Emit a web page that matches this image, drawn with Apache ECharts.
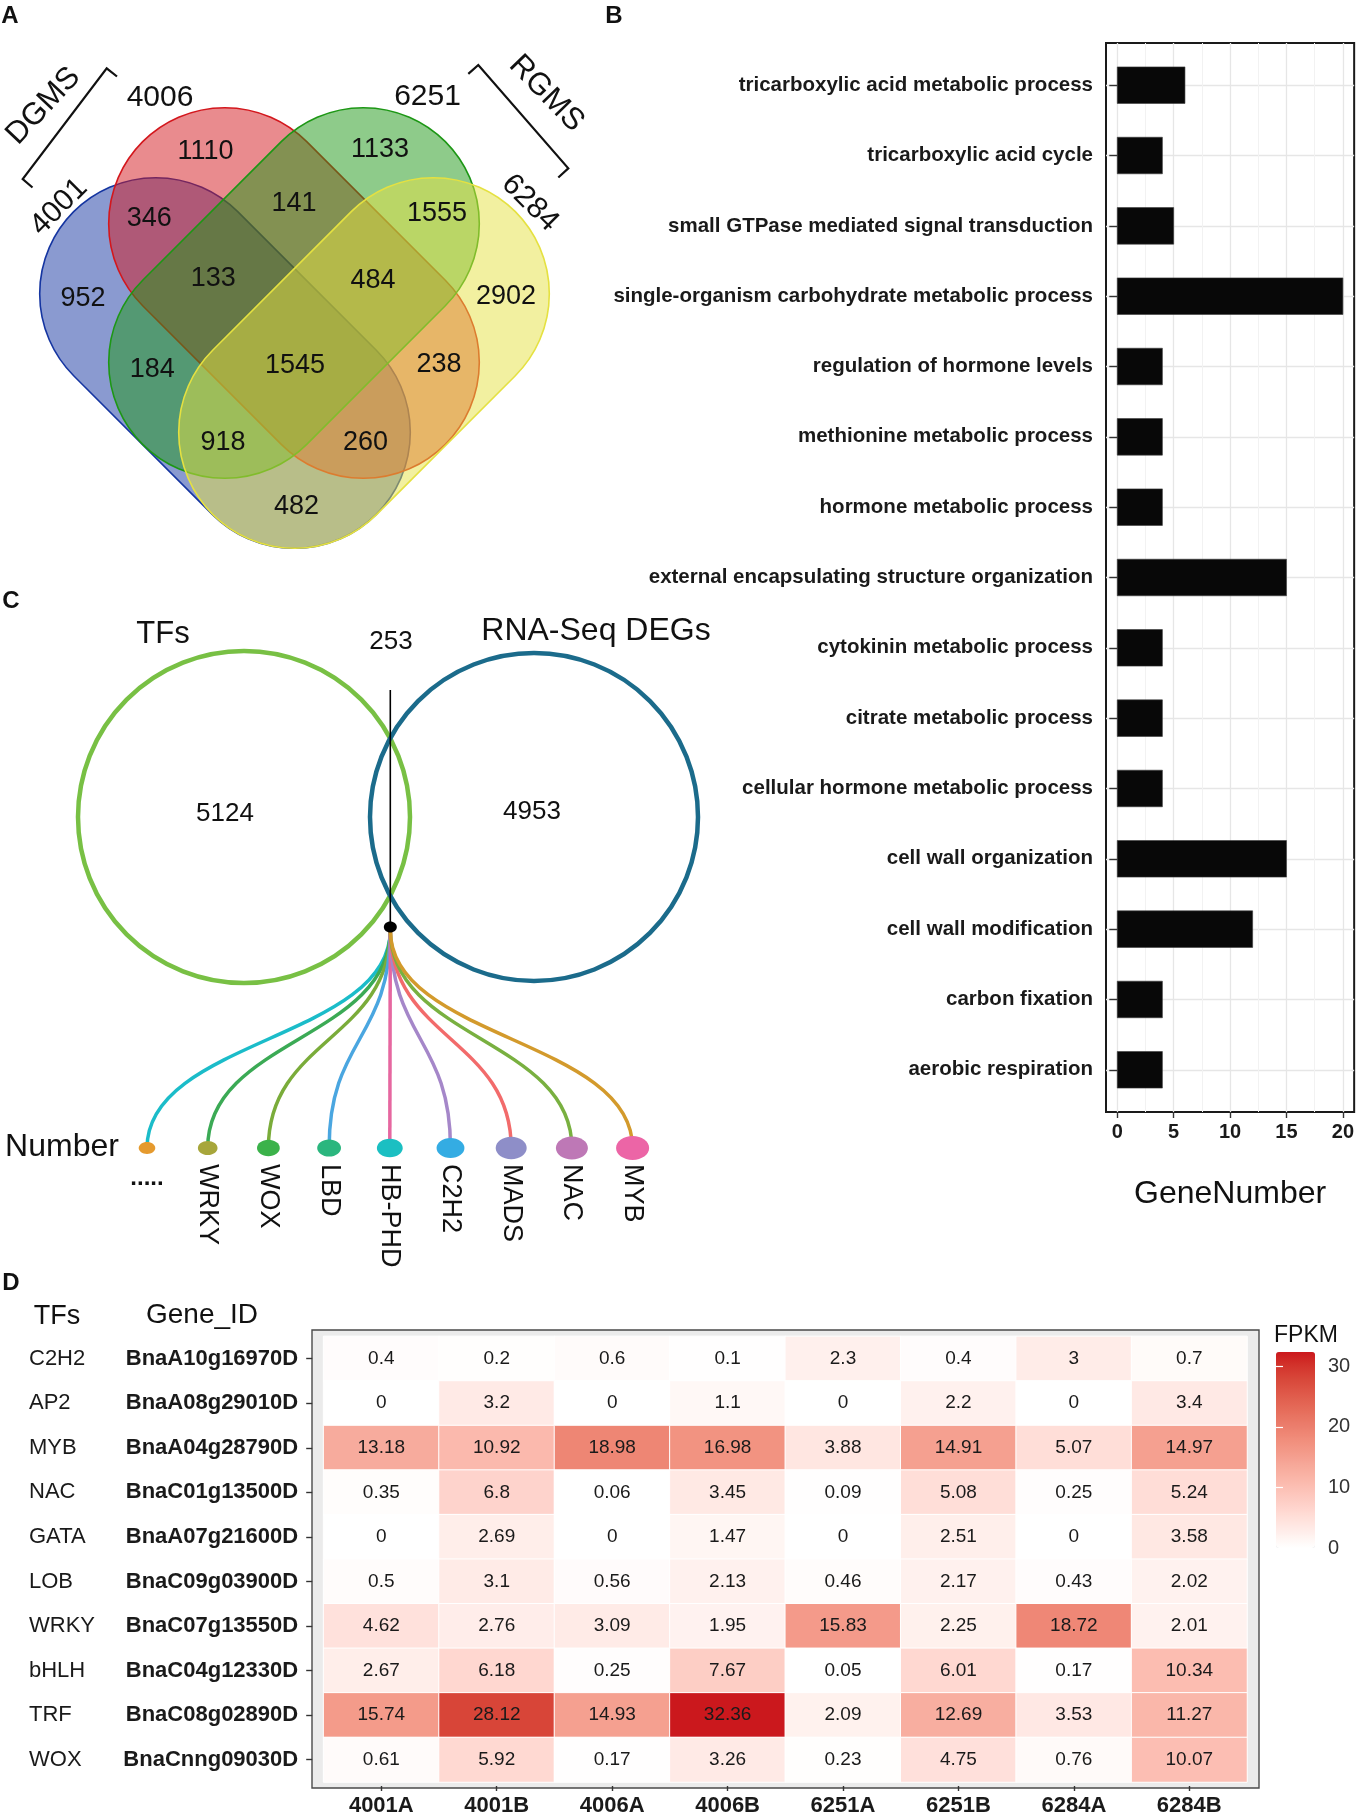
<!DOCTYPE html>
<html>
<head>
<meta charset="utf-8">
<script src="https://cdn.jsdelivr.net/npm/echarts@6/dist/echarts.min.js"></script>
<style>
html,body{margin:0;padding:0;background:#ffffff;}
#chart{width:1357px;height:1817px;}
</style>
</head>
<body>
<div id="chart"></div>
<script>
// ====================== DATA ======================
// Panel A : four-set Venn diagram
const vennSets = ['4001', '4006', '6251', '6284'];
const vennGroups = ['DGMS', 'RGMS'];
// region counts (order matches layout positions below)
const vennCounts = [1110, 1133, 346, 141, 1555, 952, 133, 484, 2902, 184, 1545, 238, 918, 260, 482];

// Panel B : GO terms
const goTerms = [
  'tricarboxylic acid metabolic process',
  'tricarboxylic acid cycle',
  'small GTPase mediated signal transduction',
  'single-organism carbohydrate metabolic process',
  'regulation of hormone levels',
  'methionine metabolic process',
  'hormone metabolic process',
  'external encapsulating structure organization',
  'cytokinin metabolic process',
  'citrate metabolic process',
  'cellular hormone metabolic process',
  'cell wall organization',
  'cell wall modification',
  'carbon fixation',
  'aerobic respiration'
];
const goGeneNumber = [6, 4, 5, 20, 4, 4, 4, 15, 4, 4, 4, 15, 12, 4, 4];
const geneNumberTicks = [0, 5, 10, 15, 20];

// Panel C : TFs vs RNA-Seq DEGs
const vennCSets = ['TFs', 'RNA-Seq DEGs'];
const vennCCounts = [5124, 253, 4953];           // TFs only, overlap, DEGs only
const tfFamilies = ['.....', 'WRKY', 'WOX', 'LBD', 'HB-PHD', 'C2H2', 'MADS', 'NAC', 'MYB'];
const tfFamilyNumber = [3, 6, 9, 10, 12, 14, 17, 18, 19];

// Panel D : FPKM heatmap
const samples = ['4001A', '4001B', '4006A', '4006B', '6251A', '6251B', '6284A', '6284B'];
const tfNames = ['C2H2', 'AP2', 'MYB', 'NAC', 'GATA', 'LOB', 'WRKY', 'bHLH', 'TRF', 'WOX'];
const geneIds = ['BnaA10g16970D', 'BnaA08g29010D', 'BnaA04g28790D', 'BnaC01g13500D', 'BnaA07g21600D',
                 'BnaC09g03900D', 'BnaC07g13550D', 'BnaC04g12330D', 'BnaC08g02890D', 'BnaCnng09030D'];
const fpkm = [
  [0.4, 0.2, 0.6, 0.1, 2.3, 0.4, 3, 0.7],
  [0, 3.2, 0, 1.1, 0, 2.2, 0, 3.4],
  [13.18, 10.92, 18.98, 16.98, 3.88, 14.91, 5.07, 14.97],
  [0.35, 6.8, 0.06, 3.45, 0.09, 5.08, 0.25, 5.24],
  [0, 2.69, 0, 1.47, 0, 2.51, 0, 3.58],
  [0.5, 3.1, 0.56, 2.13, 0.46, 2.17, 0.43, 2.02],
  [4.62, 2.76, 3.09, 1.95, 15.83, 2.25, 18.72, 2.01],
  [2.67, 6.18, 0.25, 7.67, 0.05, 6.01, 0.17, 10.34],
  [15.74, 28.12, 14.93, 32.36, 2.09, 12.69, 3.53, 11.27],
  [0.61, 5.92, 0.17, 3.26, 0.23, 4.75, 0.76, 10.07]
];
const fpkmTicks = [0, 10, 20, 30];

// ====================== LAYOUT / STYLE ======================
const FONT = '"Liberation Sans", Arial, Helvetica, sans-serif';
const L = {
  // panel A (layout coordinate space = page pixels); capsule shapes
  vennShape: [
    { cx: 225, cy: 363, rot: -Math.PI / 4, color: '#1535A1' },
    { cx: 294, cy: 293, rot: -Math.PI / 4, color: '#D3171D' },
    { cx: 294, cy: 293, rot:  Math.PI / 4, color: '#1D9715' },
    { cx: 364, cy: 363, rot:  Math.PI / 4, color: '#E5E141' }
  ],
  capLen: 428, capWid: 232,
  vennCountPos: [[205.5,152],[380,149.5],[149.3,218.6],[294,203.5],[437,213.5],[83,298.2],[213.2,278.5],
                 [373.1,280.3],[506,296.4],[152.3,369.6],[295,366],[439,365],[223.1,442.8],[365.5,442.1],[296.6,507]],
  // panel C
  circleC: [{ cx: 244, cy: 817, r: 166, color: '#78C044' }, { cx: 534, cy: 817, r: 164, color: '#1B6B8B' }],
  countCPos: [[225, 814], [391, 642], [532, 812]],
  stemTop: [390.3, 690], stemBottom: [390.3, 927],
  fanRoot: [390.3, 930], fanX0: 147, fanDX: 60.7, fanY: 1148, fanLabelY: 1164, fanDotsY: 1178,
  curveColors: ['#1BBCC9', '#3BAA55', '#7AAC3A', '#4AA6E0', '#E667A0', '#A587C9', '#F26B6B', '#79B040', '#D39A2C'],
  dotColors: ['#E59A2E', '#A7A63B', '#3BB24A', '#2BB67E', '#1BBFC2', '#34ACE3', '#8E8EC8', '#BE78B6', '#EC65A6']
};

// Lab interpolation (ggplot-like gradient white -> #CB181D)
function s2l(c) { c /= 255; return c <= 0.04045 ? c / 12.92 : Math.pow((c + 0.055) / 1.055, 2.4); }
function l2s(c) { c = Math.max(0, c); c = c <= 0.0031308 ? 12.92 * c : 1.055 * Math.pow(c, 1 / 2.4) - 0.055; return Math.max(0, Math.min(255, Math.round(c * 255))); }
function hexToLab(hex) {
  const r = s2l(parseInt(hex.slice(1, 3), 16)), g = s2l(parseInt(hex.slice(3, 5), 16)), b = s2l(parseInt(hex.slice(5, 7), 16));
  const X = (0.4124 * r + 0.3576 * g + 0.1805 * b) / 0.95047, Y = 0.2126 * r + 0.7152 * g + 0.0722 * b, Z = (0.0193 * r + 0.1192 * g + 0.9505 * b) / 1.08883;
  const f = t => t > 0.008856 ? Math.cbrt(t) : 7.787 * t + 16 / 116;
  return [116 * f(Y) - 16, 500 * (f(X) - f(Y)), 200 * (f(Y) - f(Z))];
}
function labToRgb(lab) {
  const fy = (lab[0] + 16) / 116, fx = fy + lab[1] / 500, fz = fy - lab[2] / 200;
  const inv = t => (t * t * t > 0.008856 ? t * t * t : (t - 16 / 116) / 7.787);
  const X = inv(fx) * 0.95047, Y = inv(fy), Z = inv(fz) * 1.08883;
  const r = 3.2406 * X - 1.5372 * Y - 0.4986 * Z, g = -0.9689 * X + 1.8758 * Y + 0.0415 * Z, b = 0.0557 * X - 0.2040 * Y + 1.0570 * Z;
  return 'rgb(' + l2s(r) + ',' + l2s(g) + ',' + l2s(b) + ')';
}
const lowLab = hexToLab('#FFFFFF'), highLab = hexToLab('#CB181D');
const heatColors = [];
for (let k = 0; k <= 16; k++) {
  const t = k / 16;
  heatColors.push(labToRgb([0, 1, 2].map(j => lowLab[j] + (highLab[j] - lowLab[j]) * t)));
}
const fpkmMax = Math.max.apply(null, fpkm.map(r => Math.max.apply(null, r)));

function hexA(hex, a) {
  return 'rgba(' + parseInt(hex.slice(1, 3), 16) + ',' + parseInt(hex.slice(3, 5), 16) + ',' + parseInt(hex.slice(5, 7), 16) + ',' + a + ')';
}

// ====================== SERIES DATA BUILD ======================
const heatData = [];
fpkm.forEach((row, yi) => row.forEach((v, xi) => heatData.push([xi, yi, v])));
const barData = goGeneNumber.map((v, i) => [v, i + 1]);
const catTicks = goTerms.map((t, i) => i + 1);

const chart = echarts.init(document.getElementById('chart'), null, { renderer: 'canvas' });

function txt(text, x, y, size, opts) {
  opts = opts || {};
  return {
    type: 'text', x: x, y: y, rotation: opts.rot || 0, z: 50,
    style: {
      text: text, fill: opts.color || '#111', fontSize: size, fontFamily: FONT,
      fontWeight: opts.bold ? 'bold' : 'normal',
      align: opts.align || 'center', verticalAlign: 'middle',
      textAlign: opts.align || 'center', textVerticalAlign: 'middle'
    }
  };
}

const option = {
  backgroundColor: '#ffffff',
  animation: false,
  grid: [
    { id: 'layout', left: 0, top: 0, width: 1357, height: 1817, show: false },
    { id: 'heatBg', left: 312, top: 1330, width: 947, height: 458, show: true, backgroundColor: '#EBEBEB', borderColor: '#4a4a4a', borderWidth: 1.4 },
    { id: 'heat', left: 323.6, top: 1336.4, width: 923.4, height: 447.6, show: false },
    { id: 'cbar', left: 1276, top: 1352, width: 39, height: 196, show: false },
    { id: 'bars', left: 1106, top: 43, width: 249, height: 1069, show: true, backgroundColor: '#ffffff', borderColor: '#1a1a1a', borderWidth: 2 }
  ],
  xAxis: [
    { gridIndex: 0, type: 'value', min: 0, max: 1357, show: false },
    { gridIndex: 1, type: 'value', min: 0, max: 1, show: false },
    { gridIndex: 2, type: 'category', data: samples, position: 'bottom', offset: 4,
      axisLine: { show: false },
      axisTick: { show: true, alignWithLabel: true, length: 5, lineStyle: { color: '#333', width: 1.4 } },
      axisLabel: { fontFamily: FONT, fontWeight: 'bold', fontSize: 22, color: '#1a1a1a', margin: 9 },
      splitLine: { show: false } },
    { gridIndex: 3, type: 'value', min: 0, max: 1, show: false },
    { gridIndex: 4, type: 'value', min: -1, max: 21, position: 'bottom',
      axisLine: { show: false },
      axisTick: { show: true, length: 6, customValues: geneNumberTicks, lineStyle: { color: '#333', width: 1.4 } },
      axisLabel: { customValues: geneNumberTicks, fontFamily: FONT, fontWeight: 'bold', fontSize: 20, color: '#1a1a1a', margin: 10 },
      splitLine: { show: true, lineStyle: { color: '#E6E6E6', width: 1.3 } },
      name: 'GeneNumber', nameLocation: 'middle', nameGap: 66,
      nameTextStyle: { fontFamily: FONT, fontSize: 32, color: '#111' } },
    { gridIndex: 4, type: 'value', min: -1, max: 21, position: 'top',
      axisLine: { show: false },
      axisTick: { show: false, customValues: [2.5, 7.5, 12.5, 17.5] },
      axisLabel: { show: false },
      splitLine: { show: true, lineStyle: { color: '#F2F2F2', width: 1 } } }
  ],
  yAxis: [
    { gridIndex: 0, type: 'value', min: 0, max: 1817, inverse: true, show: false },
    { gridIndex: 1, type: 'value', min: 0, max: 1, show: false },
    { gridIndex: 2, type: 'category', data: geneIds, inverse: true, position: 'left', offset: 11.4,
      axisLine: { show: false },
      axisTick: { show: true, alignWithLabel: true, length: 6, lineStyle: { color: '#333', width: 1.4 } },
      axisLabel: { fontFamily: FONT, fontWeight: 'bold', fontSize: 22, color: '#1a1a1a', margin: 14 },
      splitLine: { show: false } },
    { gridIndex: 2, type: 'category', data: tfNames, inverse: true, position: 'left', offset: 294.6,
      axisLine: { show: false }, axisTick: { show: false },
      axisLabel: { fontFamily: FONT, fontSize: 22, color: '#1a1a1a', margin: 0, align: 'left', padding: [0, 0, 6, 0] },
      splitLine: { show: false } },
    { gridIndex: 3, type: 'value', min: 0, max: fpkmMax, position: 'right', z: 10,
      axisLine: { show: false },
      axisTick: { show: true, inside: true, length: 7, customValues: fpkmTicks, lineStyle: { color: '#ffffff', width: 1.2 } },
      axisLabel: { customValues: fpkmTicks, fontFamily: FONT, fontSize: 20, color: '#333', margin: 13 },
      splitLine: { show: false } },
    { gridIndex: 3, type: 'value', min: 0, max: fpkmMax, position: 'left', z: 10,
      axisLine: { show: false },
      axisTick: { show: true, inside: true, length: 7, customValues: fpkmTicks, lineStyle: { color: '#ffffff', width: 1.2 } },
      axisLabel: { show: false }, splitLine: { show: false } },
    { gridIndex: 4, type: 'value', min: 0.4, max: 15.6, inverse: true, position: 'left',
      axisLine: { show: false },
      axisTick: { show: true, length: 8, customValues: catTicks, lineStyle: { color: '#333', width: 1.4 } },
      axisLabel: { customValues: catTicks, formatter: v => goTerms[Math.round(v) - 1], fontFamily: FONT, fontWeight: 'bold', fontSize: 20.5, color: '#1a1a1a', margin: 13 },
      splitLine: { show: true, lineStyle: { color: '#E6E6E6', width: 1.3 } } }
  ],
  visualMap: [{
    type: 'continuous', seriesIndex: 5, dimension: 2, min: 0, max: fpkmMax,
    calculable: false, orient: 'vertical', left: 1276, top: 1352, itemWidth: 39, itemHeight: 196,
    padding: 0, text: null, showLabel: false, hoverLink: false,
    inRange: { color: heatColors }
  }],
  series: [
    // 0 Venn A capsules (one per set)
    { type: 'custom', coordinateSystem: 'cartesian2d', xAxisIndex: 0, yAxisIndex: 0, silent: true,
      data: vennSets.map((s, i) => [i]),
      renderItem: function (params, api) {
        const e = L.vennShape[params.dataIndex];
        const c = api.coord([e.cx, e.cy]);
        const sz = api.size([L.capLen, L.capWid]);
        return { type: 'rect', x: c[0], y: c[1], rotation: e.rot,
          shape: { x: -sz[0] / 2, y: -sz[1] / 2, width: sz[0], height: sz[1], r: sz[1] / 2 },
          style: { fill: hexA(e.color, 0.5), stroke: e.color, lineWidth: 1.6 } };
      } },
    // 1 Venn A region counts
    { type: 'custom', coordinateSystem: 'cartesian2d', xAxisIndex: 0, yAxisIndex: 0, silent: true, z: 5,
      data: vennCounts.map((v, i) => [i, v]),
      renderItem: function (params, api) {
        const p = api.coord(L.vennCountPos[params.dataIndex]);
        return { type: 'text', x: p[0], y: p[1],
          style: { text: String(api.value(1)), fill: '#111', fontSize: 27, fontFamily: FONT,
                   align: 'center', verticalAlign: 'middle', textAlign: 'center', textVerticalAlign: 'middle' } };
      } },
    // 2 Panel C circles
    { type: 'custom', coordinateSystem: 'cartesian2d', xAxisIndex: 0, yAxisIndex: 0, silent: true,
      data: vennCSets.map((s, i) => [i]),
      renderItem: function (params, api) {
        const c = L.circleC[params.dataIndex];
        const p = api.coord([c.cx, c.cy]);
        const r = api.size([c.r, 0])[0];
        return { type: 'circle', shape: { cx: p[0], cy: p[1], r: r },
          style: { fill: 'none', stroke: c.color, lineWidth: 4.5 } };
      } },
    // 3 Panel C counts + stem
    { type: 'custom', coordinateSystem: 'cartesian2d', xAxisIndex: 0, yAxisIndex: 0, silent: true, z: 5,
      data: vennCCounts.map((v, i) => [i, v]),
      renderItem: function (params, api) {
        const i = params.dataIndex;
        const p = api.coord(L.countCPos[i]);
        const children = [{ type: 'text', x: p[0], y: p[1],
          style: { text: String(api.value(1)), fill: '#111', fontSize: 26, fontFamily: FONT,
                   align: 'center', verticalAlign: 'middle', textAlign: 'center', textVerticalAlign: 'middle' } }];
        if (i === 1) {
          const a = api.coord(L.stemTop), b = api.coord(L.stemBottom);
          children.push({ type: 'line', shape: { x1: a[0], y1: a[1], x2: b[0], y2: b[1] }, style: { stroke: '#000', lineWidth: 1.6 } });
          children.push({ type: 'ellipse', shape: { cx: b[0], cy: b[1], rx: 6.5, ry: 5.5 }, style: { fill: '#000' } });
        }
        return { type: 'group', children: children };
      } },
    // 4 Panel C TF family fan
    { type: 'custom', coordinateSystem: 'cartesian2d', xAxisIndex: 0, yAxisIndex: 0, silent: true, z: 4,
      data: tfFamilyNumber.map((v, i) => [i, v]),
      renderItem: function (params, api) {
        const i = params.dataIndex;
        const n = api.value(1);
        const root = api.coord(L.fanRoot);
        const dot = api.coord([L.fanX0 + L.fanDX * i, L.fanY]);
        const w = 13.5 + 1.03 * n;
        const rx = w / 2, ry = rx * 0.72;
        const midY = (root[1] + dot[1]) / 2;
        const children = [
          { type: 'bezierCurve', shape: { x1: root[0], y1: root[1], cpx1: root[0], cpy1: midY, cpx2: dot[0], cpy2: midY, x2: dot[0], y2: dot[1] },
            style: { stroke: L.curveColors[i], lineWidth: 3.5, fill: null } },
          { type: 'ellipse', shape: { cx: dot[0], cy: dot[1], rx: rx, ry: ry }, style: { fill: L.dotColors[i] } }
        ];
        if (i === 0) {
          const lp = api.coord([L.fanX0, L.fanDotsY]);
          children.push({ type: 'text', x: lp[0], y: lp[1],
            style: { text: tfFamilies[i], fill: '#111', fontSize: 24, fontWeight: 'bold', fontFamily: FONT,
                     align: 'center', verticalAlign: 'middle', textAlign: 'center', textVerticalAlign: 'middle' } });
        } else {
          const lp = api.coord([L.fanX0 + L.fanDX * i, L.fanLabelY]);
          children.push({ type: 'text', x: lp[0], y: lp[1], rotation: -Math.PI / 2,
            style: { text: tfFamilies[i], fill: '#111', fontSize: 27, fontFamily: FONT,
                     align: 'left', verticalAlign: 'middle', textAlign: 'left', textVerticalAlign: 'middle' } });
        }
        return { type: 'group', children: children };
      } },
    // 5 Heatmap
    { type: 'heatmap', xAxisIndex: 2, yAxisIndex: 2, data: heatData,
      label: { show: true, formatter: p => String(p.value[2]), fontFamily: FONT, fontSize: 19, color: '#1a1a1a' },
      itemStyle: { borderColor: '#ffffff', borderWidth: 1 },
      emphasis: { disabled: true } },
    // 6 GO bars
    { type: 'custom', coordinateSystem: 'cartesian2d', xAxisIndex: 4, yAxisIndex: 6, silent: true, z: 3,
      data: barData,
      renderItem: function (params, api) {
        const s = api.coord([0, api.value(1)]);
        const e = api.coord([api.value(0), api.value(1)]);
        const h = api.size([0, 0.52])[1];
        return { type: 'rect', shape: { x: s[0], y: s[1] - h / 2, width: e[0] - s[0], height: h },
          style: { fill: '#080808', stroke: '#3a3a3a', lineWidth: 0.6 } };
      } }
  ],
  graphic: [
    txt('A', 10, 16, 24, { bold: true }),
    txt('B', 614, 16, 24, { bold: true }),
    txt('C', 11, 601, 24, { bold: true }),
    txt('D', 11, 1283, 24, { bold: true }),
    // Panel A set labels
    txt(vennSets[1], 160, 98, 30),
    txt(vennSets[2], 427.5, 97, 30),
    txt(vennSets[0], 59, 207, 30, { rot: Math.PI / 4 }),
    txt(vennSets[3], 530, 203, 30, { rot: -Math.PI / 4 }),
    txt(vennGroups[0], 43.5, 106, 31, { rot: 0.82 }),
    txt(vennGroups[1], 546.5, 93.5, 31, { rot: -0.8 }),
    { type: 'polyline', z: 50, shape: { points: [[32.5, 187.5], [22.7, 179], [106.7, 68.3], [117, 76.5]] }, style: { stroke: '#111', lineWidth: 2.2, fill: null } },
    { type: 'polyline', z: 50, shape: { points: [[468.3, 73.8], [478.3, 65], [568.3, 168.3], [558.3, 177.5]] }, style: { stroke: '#111', lineWidth: 2.2, fill: null } },
    // Panel C titles
    txt(vennCSets[0], 163, 634, 31),
    txt(vennCSets[1], 596, 631, 32),
    txt('Number', 62, 1147, 32),
    // Panel D headers
    txt('TFs', 57, 1317, 27),
    txt('Gene_ID', 202, 1315, 28),
    txt('FPKM', 1274, 1336, 23, { align: 'left' })
  ]
};
chart.setOption(option);
</script>
</body>
</html>
